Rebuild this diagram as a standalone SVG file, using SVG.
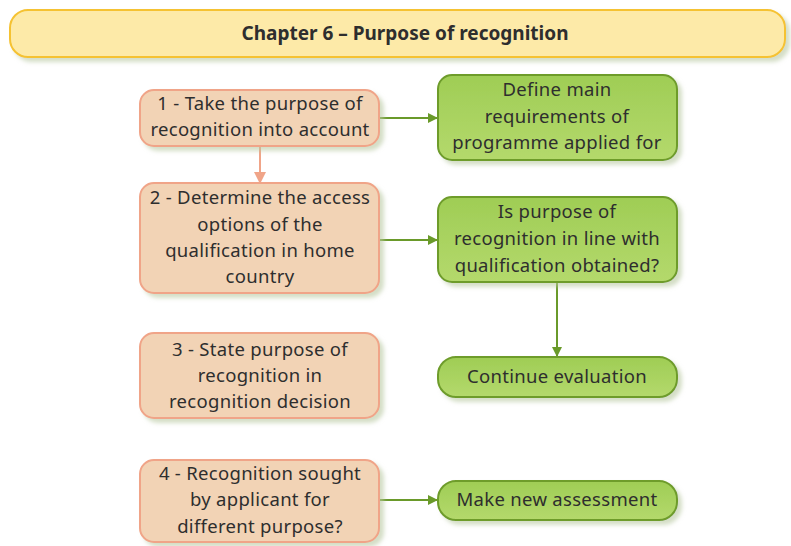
<svg xmlns="http://www.w3.org/2000/svg" width="791" height="546" viewBox="0 0 791 546">
<style>
text{font-family:"Noto Sans","Open Sans",sans-serif;font-size:18.5px;fill:#2e2e2e;text-anchor:middle;letter-spacing:0.3px}
.title{font-weight:bold;font-size:19px;letter-spacing:0}
.peach{fill:#f2d3b5;stroke:#f0a488;stroke-width:2}
.green{fill:url(#gg);stroke:#6e9c2c;stroke-width:2}
.gl{stroke:#6a9a2a;stroke-width:2;fill:none}
.pl{stroke:#f0a488;stroke-width:2;fill:none}
</style>
<defs>
<linearGradient id="gg" x1="0" y1="0" x2="0" y2="1">
<stop offset="0" stop-color="#9fcd55"/><stop offset="1" stop-color="#b4d96c"/>
</linearGradient>
<filter id="sh" x="-10%" y="-10%" width="130%" height="140%">
<feDropShadow dx="4" dy="4" stdDeviation="2" flood-color="#b8c8a0" flood-opacity="0.6"/>
</filter>
<marker id="ag" markerWidth="10" markerHeight="10" refX="9" refY="5" orient="auto" markerUnits="userSpaceOnUse">
<path d="M0,0 L10,5 L0,10 z" fill="#6a9a2a"/>
</marker>
<marker id="ap" markerWidth="12" markerHeight="12" refX="10" refY="6" orient="auto" markerUnits="userSpaceOnUse">
<path d="M0,0 L12,6 L0,12 z" fill="#f0a488"/>
</marker>
</defs>
<g id="title">
<rect x="10" y="10" width="775" height="47" rx="18" fill="#fdeaa8" stroke="#f5c232" stroke-width="2" filter="url(#sh)"/>
<text class="title" x="405" y="40">Chapter 6 – Purpose of recognition</text>
</g>
<g id="connectors">
<line class="pl" x1="260" y1="146" x2="260" y2="182" marker-end="url(#ap)"/>
<line class="gl" x1="379" y1="118" x2="437" y2="118" marker-end="url(#ag)"/>
<line class="gl" x1="379" y1="240" x2="437" y2="240" marker-end="url(#ag)"/>
<line class="gl" x1="557" y1="283" x2="557" y2="356" marker-end="url(#ag)"/>
<line class="gl" x1="379" y1="500" x2="437" y2="500" marker-end="url(#ag)"/>
</g>
<g id="step1">
<rect class="peach" x="140" y="90" width="239" height="56" rx="14" filter="url(#sh)"/>
<text x="260" y="110">1 - Take the purpose of</text>
<text x="260" y="136">recognition into account</text>
</g>
<g id="step2">
<rect class="peach" x="140" y="183" width="239" height="110" rx="14" filter="url(#sh)"/>
<text x="260" y="204">2 - Determine the access</text>
<text x="260" y="231">options of the</text>
<text x="260" y="257">qualification in home</text>
<text x="260" y="283">country</text>
</g>
<g id="step3">
<rect class="peach" x="140" y="333" width="239" height="85" rx="14" filter="url(#sh)"/>
<text x="260" y="356">3 - State purpose of</text>
<text x="260" y="382">recognition in</text>
<text x="260" y="408">recognition decision</text>
</g>
<g id="step4">
<rect class="peach" x="140" y="460" width="239" height="82" rx="14" filter="url(#sh)"/>
<text x="260" y="480">4 - Recognition sought</text>
<text x="260" y="506">by applicant for</text>
<text x="260" y="533">different purpose?</text>
</g>
<g id="define">
<rect class="green" x="438" y="75" width="239" height="85" rx="14" filter="url(#sh)"/>
<text x="557" y="96">Define main</text>
<text x="557" y="123">requirements of</text>
<text x="557" y="149">programme applied for</text>
</g>
<g id="inline">
<rect class="green" x="438" y="197" width="239" height="85" rx="14" filter="url(#sh)"/>
<text x="557" y="218">Is purpose of</text>
<text x="557" y="245">recognition in line with</text>
<text x="557" y="272">qualification obtained?</text>
</g>
<g id="continue">
<rect class="green" x="438" y="357" width="239" height="40" rx="18" filter="url(#sh)"/>
<text x="557" y="383">Continue evaluation</text>
</g>
<g id="newassess">
<rect class="green" x="438" y="481" width="239" height="39" rx="18" filter="url(#sh)"/>
<text x="557" y="506">Make new assessment</text>
</g>
</svg>
